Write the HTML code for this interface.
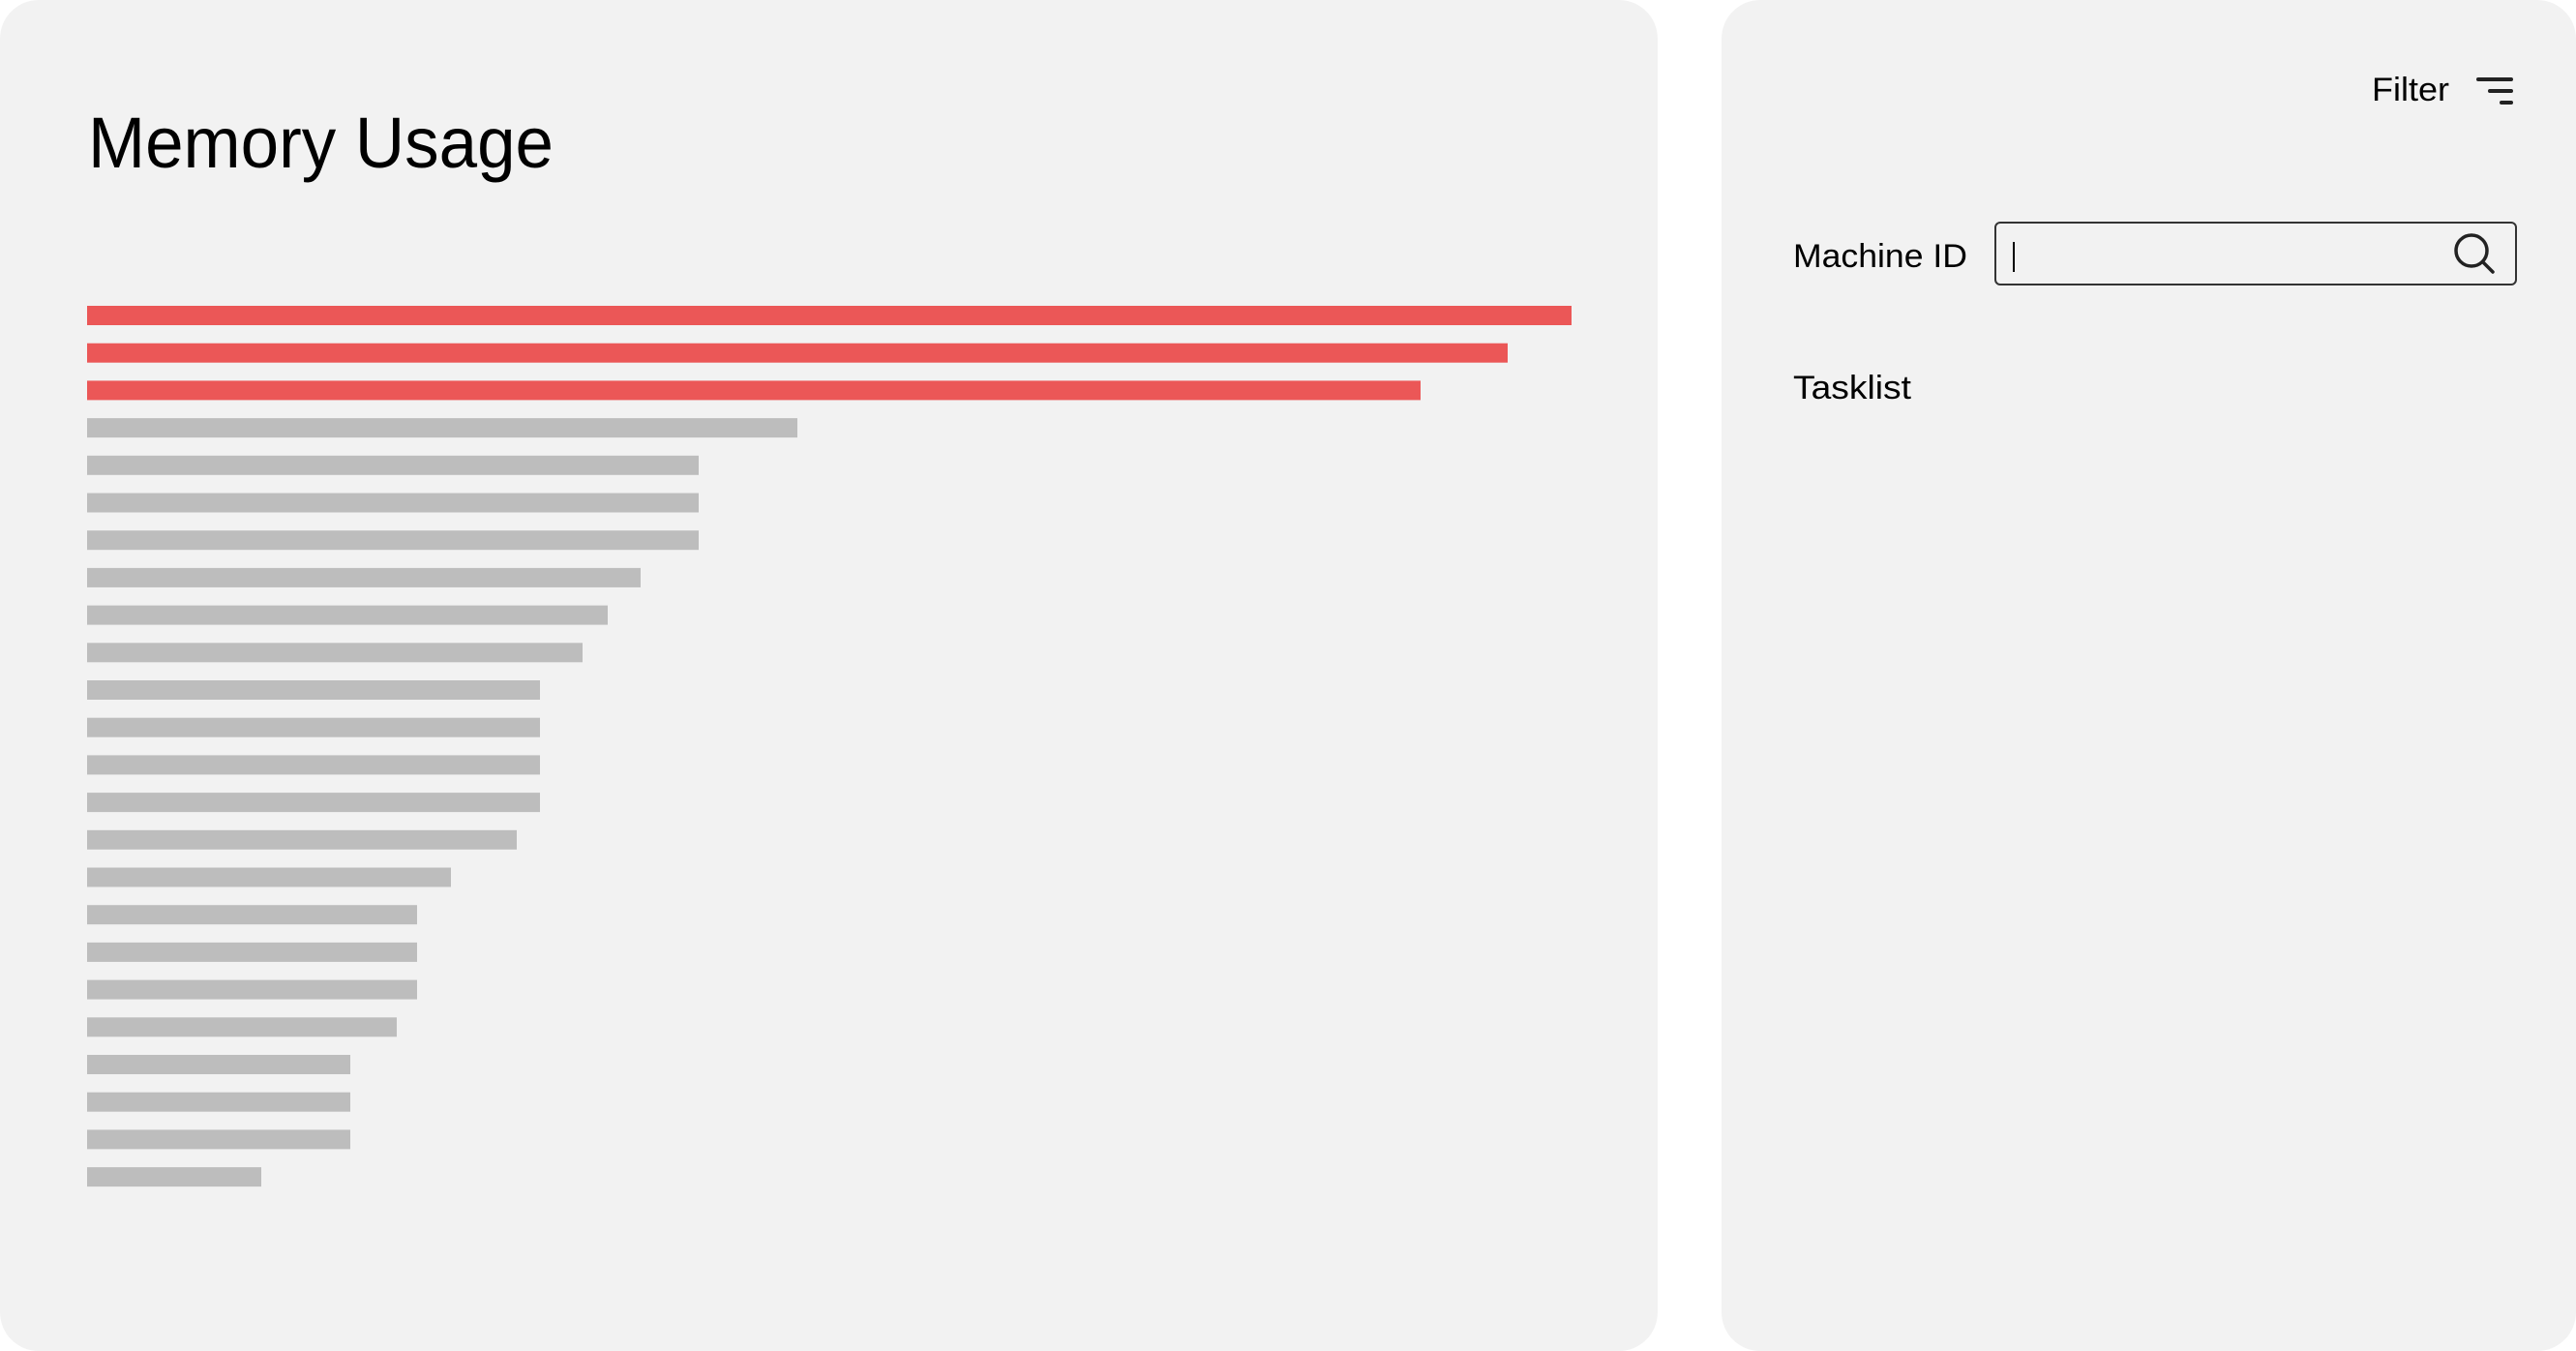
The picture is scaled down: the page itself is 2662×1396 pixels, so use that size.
<!DOCTYPE html>
<html><head><meta charset="utf-8"><style>
html,body{margin:0;padding:0;background:#fff;}
svg{display:block;font-family:"Liberation Sans",Arial,sans-serif;}
</style></head><body>
<svg id="root" width="2662" height="1396" viewBox="0 0 2662 1396" xmlns="http://www.w3.org/2000/svg">
  <rect x="0" y="0" width="1713" height="1396" rx="40" fill="#f2f2f2"/>
  <rect x="1779" y="0" width="883" height="1396" rx="40" fill="#f2f2f2"/>
  <text x="91" y="173" font-size="74" fill="#000" textLength="481" lengthAdjust="spacingAndGlyphs">Memory Usage</text>
  <g id="bars"></g>

  <g style="cursor:pointer">
    <text x="2451" y="104" font-size="34" fill="#000" textLength="80" lengthAdjust="spacingAndGlyphs">Filter</text>
    <g stroke="#222" stroke-width="4" stroke-linecap="round">
      <line x1="2561" y1="82" x2="2595" y2="82"/>
      <line x1="2573" y1="94" x2="2595" y2="94"/>
      <line x1="2585" y1="106" x2="2595" y2="106"/>
    </g>
  </g>

  <text x="1853" y="276" font-size="34" fill="#000" textLength="180" lengthAdjust="spacingAndGlyphs">Machine ID</text>
  <rect x="2062" y="230" width="538" height="64" rx="5" fill="#f2f2f2" stroke="#333" stroke-width="2"/>
  <line x1="2081" y1="250" x2="2081" y2="281" stroke="#000" stroke-width="2"/>
  <g fill="none" stroke="#222" stroke-width="3.5" stroke-linecap="round">
    <circle cx="2554" cy="259" r="16"/>
    <line x1="2566" y1="271" x2="2576" y2="281"/>
  </g>

  <text x="1853" y="412" font-size="34" fill="#000" textLength="122" lengthAdjust="spacingAndGlyphs">Tasklist</text>
</svg>
<script>
const machines = ["m01","m02","m03","m04","m05","m06","m07","m08","m09","m10","m11","m12","m13","m14","m15","m16","m17","m18","m19","m20","m21","m22","m23","m24"];
const memoryValues = [153.4,146.8,137.8,73.4,63.2,63.2,63.2,57.2,53.8,51.2,46.8,46.8,46.8,46.8,44.4,37.6,34.1,34.1,34.1,32.0,27.2,27.2,27.2,18.0];
const highlighted = [true,true,true,false,false,false,false,false,false,false,false,false,false,false,false,false,false,false,false,false,false,false,false,false];

const X0 = 90, XW = 1534, MAXV = 153.4;
const Y0 = 316, STEP = 38.7, BH = 20;
function xScale(v){ return v / MAXV * XW; }
function yScale(i){ return Y0 + i * STEP; }

const g = document.getElementById('bars');
const NS = 'http://www.w3.org/2000/svg';
memoryValues.forEach((v, i) => {
  const r = document.createElementNS(NS, 'rect');
  r.setAttribute('x', X0);
  r.setAttribute('y', yScale(i));
  r.setAttribute('width', xScale(v));
  r.setAttribute('height', BH);
  r.setAttribute('fill', highlighted[i] ? '#eb5757' : '#bdbdbd');
  
  
  g.appendChild(r);
});
</script>
</body></html>
